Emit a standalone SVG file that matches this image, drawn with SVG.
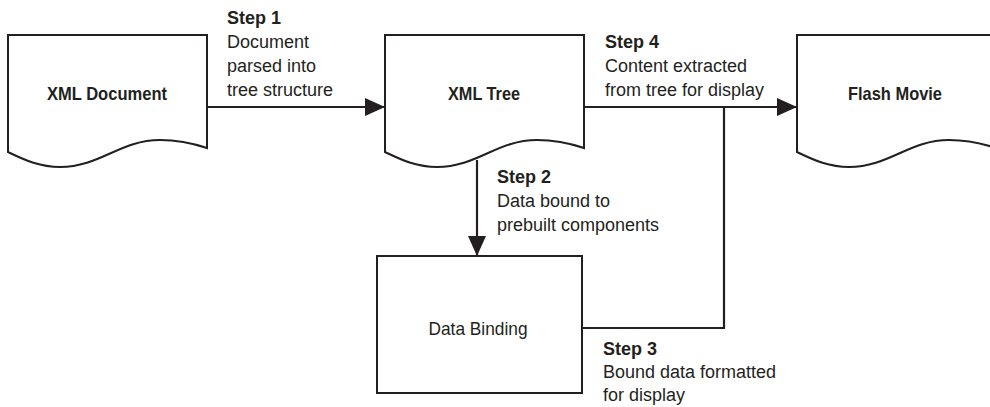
<svg xmlns="http://www.w3.org/2000/svg" width="990" height="407" viewBox="0 0 990 407">
<style>
.shape{fill:#fff;stroke:#231f20;stroke-width:2}
.conn{fill:none;stroke:#231f20;stroke-width:2.2}
.lbl{font-family:"Liberation Sans",Arial,sans-serif;font-size:18.5px;font-weight:bold;fill:#231f20;text-anchor:middle}
.lblr{font-family:"Liberation Sans",Arial,sans-serif;font-size:18.5px;fill:#231f20;text-anchor:middle}
.st{font-family:"Liberation Sans",Arial,sans-serif;font-size:18px;fill:#231f20}
.stb{font-weight:bold}
</style>
<defs>
<path id="doc" d="M0,0 H199 V113 C187,109 172,105 152,105 C112,105 92,132 52,132 C30,132 15,124 0,117 Z"/>
<marker id="ah" viewBox="0 0 20 18" refX="20" refY="9" markerWidth="20" markerHeight="18" markerUnits="userSpaceOnUse" orient="auto">
<path d="M0,0 L20,9 L0,18 Z" fill="#231f20"/>
</marker>
</defs>
<g id="connectors">
<line class="conn" x1="207" y1="107" x2="385" y2="107" marker-end="url(#ah)"/>
<line class="conn" x1="583" y1="107" x2="797" y2="107" marker-end="url(#ah)"/>
<line class="conn" x1="477" y1="160" x2="477" y2="256" marker-end="url(#ah)"/>
<polyline class="conn" points="582,328 724,328 724,107"/>
</g>
<g id="xml-document">
<use href="#doc" class="shape" x="8" y="35"/>
<text class="lbl" x="107" y="100" textLength="120" lengthAdjust="spacingAndGlyphs">XML Document</text>
</g>
<g id="xml-tree">
<use href="#doc" class="shape" x="385" y="35"/>
<text class="lbl" x="484" y="100" textLength="72" lengthAdjust="spacingAndGlyphs">XML Tree</text>
</g>
<g id="flash-movie">
<use href="#doc" class="shape" x="797" y="35"/>
<text class="lbl" x="895" y="100" textLength="94" lengthAdjust="spacingAndGlyphs">Flash Movie</text>
</g>
<g id="data-binding">
<rect class="shape" x="377" y="256" width="205" height="137"/>
<text class="lblr" x="478" y="335" textLength="99" lengthAdjust="spacingAndGlyphs">Data Binding</text>
</g>
<g id="step1-label">
<text class="st" x="227" y="24"><tspan class="stb">Step 1</tspan><tspan x="227" dy="24">Document</tspan><tspan x="227" dy="24">parsed into</tspan><tspan x="227" dy="24">tree structure</tspan></text>
</g>
<g id="step2-label">
<text class="st" x="497" y="183"><tspan class="stb">Step 2</tspan><tspan x="497" dy="24">Data bound to</tspan><tspan x="497" dy="24">prebuilt components</tspan></text>
</g>
<g id="step3-label">
<text class="st" x="603" y="355"><tspan class="stb">Step 3</tspan><tspan x="603" dy="23">Bound data formatted</tspan><tspan x="603" dy="23">for display</tspan></text>
</g>
<g id="step4-label">
<text class="st" x="605" y="48"><tspan class="stb">Step 4</tspan><tspan x="605" dy="24">Content extracted</tspan><tspan x="605" dy="24">from tree for display</tspan></text>
</g>
</svg>
